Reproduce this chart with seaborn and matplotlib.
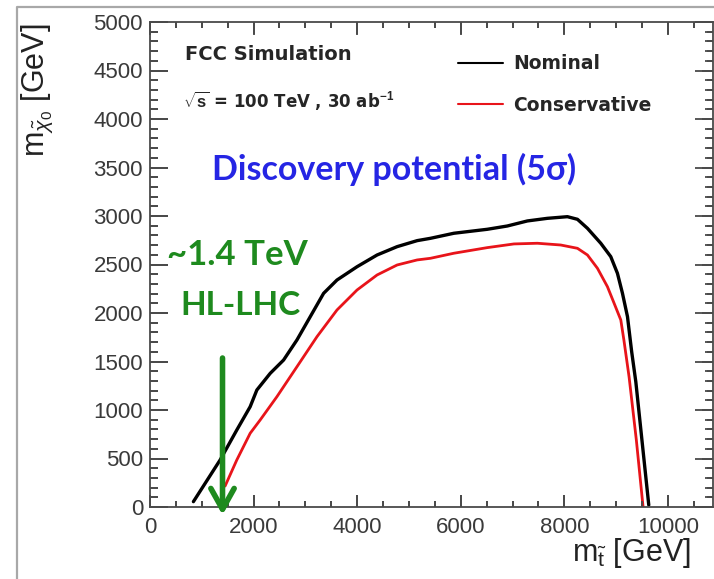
"""FCC discovery reach: stop vs neutralino mass plane."""

import matplotlib.pyplot as plt
import pandas as pd
import seaborn as sns
from matplotlib.lines import Line2D
from matplotlib.ticker import MultipleLocator

# (GeV)
NOMINAL_X = [838, 1354, 1676, 1934, 2063, 2321, 2579, 2837, 3094, 3352, 3610,
             3997, 4384, 4771, 5158, 5415, 5866, 6512, 6899, 7286, 7672, 8059,
             8253, 8446, 8703, 8896, 9025, 9122, 9219, 9300, 9380, 9500, 9630]
NOMINAL_Y = [55, 485, 794, 1034, 1206, 1378, 1515, 1722, 1962, 2203, 2340,
             2477, 2598, 2684, 2746, 2770, 2822, 2863, 2897, 2949, 2976, 2993,
             2966, 2873, 2719, 2581, 2409, 2203, 1962, 1600, 1290, 680, 20]
CONSERVATIVE_X = [1450, 1676, 1934, 2127, 2450, 2837, 3224, 3610, 3997, 4384,
                  4771, 5158, 5415, 5866, 6512, 7027, 7479, 7930, 8253, 8446,
                  8639, 8832, 8961, 9090, 9150, 9250, 9390, 9520]
CONSERVATIVE_Y = [216, 485, 760, 897, 1137, 1446, 1756, 2031, 2237, 2392,
                  2495, 2547, 2564, 2616, 2674, 2712, 2719, 2701, 2667, 2598,
                  2461, 2271, 2100, 1928, 1720, 1340, 690, 0]
HL_LHC_LIMIT = 1400
ARROW_TOP = 1536
ARROW_TIP = -82

GREEN = "#1e8a1e"
BLUE = "#2525e4"
AXIS_GREY = "#4a4a4a"

sns.set_style("ticks")
plt.rcParams["font.family"] = ["Liberation Sans", "DejaVu Sans"]
plt.rcParams["mathtext.fontset"] = "custom"
plt.rcParams["mathtext.rm"] = "Liberation Sans"
plt.rcParams["mathtext.it"] = "Liberation Sans:italic"
plt.rcParams["mathtext.bf"] = "Liberation Sans:bold"

df = pd.concat([
    pd.DataFrame({"mstop": NOMINAL_X, "mlsp": NOMINAL_Y, "scenario": "Nominal"}),
    pd.DataFrame({"mstop": CONSERVATIVE_X, "mlsp": CONSERVATIVE_Y, "scenario": "Conservative"}),
])

fig, ax = plt.subplots(figsize=(7.14, 5.79), dpi=100)
fig.subplots_adjust(left=150 / 714, right=713 / 714, bottom=72 / 579, top=557 / 579)

sns.lineplot(data=df, x="mstop", y="mlsp", hue="scenario", sort=False,
             estimator=None, palette={"Nominal": "black", "Conservative": "#e8141a"},
             ax=ax, legend=True)
for line, lw in zip(ax.lines, [2.4, 2.0]):
    line.set_linewidth(lw)
    line.set_solid_joinstyle("round")

ax.set_xlim(0, 10870)
ax.set_ylim(0, 5000)
ax.xaxis.set_major_locator(MultipleLocator(2000))
ax.xaxis.set_minor_locator(MultipleLocator(500))
ax.yaxis.set_major_locator(MultipleLocator(500))
ax.yaxis.set_minor_locator(MultipleLocator(100))
ax.tick_params(which="both", direction="in", top=True, right=True, labelsize=16)
ax.tick_params(which="both", colors=AXIS_GREY, labelcolor="#3a3a3a", width=1.3)
ax.tick_params(axis="y", which="major", length=13, pad=5)
ax.tick_params(axis="y", which="minor", length=6)
ax.tick_params(axis="x", which="major", length=9, pad=7)
ax.tick_params(axis="x", which="minor", length=4.5)
for spine in ax.spines.values():
    spine.set_color(AXIS_GREY)
    spine.set_linewidth(1.3)
ax.set_xlabel("")
ax.set_ylabel("")

# ROOT-style inward ticks, also drawn as plain segments so they always show
xt = ax.get_xaxis_transform()
yt = ax.get_yaxis_transform()
xmaj, xmin_ = ax.get_xticks(), ax.xaxis.get_minorticklocs()
ymaj, ymin_ = ax.get_yticks(), ax.yaxis.get_minorticklocs()
tick_kw = dict(color=AXIS_GREY, lw=1.3)
ax.vlines(xmaj, 0, 0.025, transform=xt, **tick_kw)
ax.vlines(xmin_, 0, 0.0125, transform=xt, **tick_kw)
ax.vlines(xmaj, 1 - 0.025, 1, transform=xt, **tick_kw)
ax.vlines(xmin_, 1 - 0.0125, 1, transform=xt, **tick_kw)
ax.hlines(ymaj, 0, 0.032, transform=yt, **tick_kw)
ax.hlines(ymin_, 0, 0.0145, transform=yt, **tick_kw)
ax.hlines(ymaj, 1 - 0.02, 1, transform=yt, **tick_kw)
ax.hlines(ymin_, 1 - 0.01, 1, transform=yt, **tick_kw)
ax.set_xlim(0, 10870)
ax.set_ylim(0, 5000)

# HL-LHC reach arrow
ax.annotate("", xy=(HL_LHC_LIMIT, ARROW_TIP), xytext=(HL_LHC_LIMIT, ARROW_TOP),
            arrowprops=dict(arrowstyle="->,head_length=0.75,head_width=0.42",
                            color=GREEN, lw=4, mutation_scale=20,
                            shrinkA=0, shrinkB=0),
            annotation_clip=False)

ax.text(0.155, 0.520, "~1.4 TeV", transform=ax.transAxes, ha="center", va="center",
        color=GREEN, fontsize=25, fontweight="bold", family="Lato")
ax.text(0.160, 0.416, "HL-LHC", transform=ax.transAxes, ha="center", va="center",
        color=GREEN, fontsize=24, fontweight="bold", family="Lato")
ax.text(0.434, 0.695, "Discovery potential (5σ)", transform=ax.transAxes,
        ha="center", va="center", color=BLUE, fontsize=24.5, fontweight="bold", family="Lato")
ax.text(0.062, 0.932, "FCC Simulation", transform=ax.transAxes, ha="left", va="center",
        fontsize=14, fontweight="bold", family="DejaVu Sans")
ax.text(0.059, 0.839, r"$\sqrt{\mathbf{s}}$ = 100 TeV , 30 ab$^{\mathbf{-1}}$",
        transform=ax.transAxes, ha="left", va="center", fontsize=12,
        fontweight="bold", family="DejaVu Sans")

ax.legend(loc="upper left", bbox_to_anchor=(0.547, 0.933), frameon=False,
          handlelength=2.4, handletextpad=0.55, labelspacing=1.2,
          borderpad=0, borderaxespad=0,
          prop={"family": "DejaVu Sans", "weight": "bold", "size": 13.5})

# axis titles in ROOT style
fig.text(37 / 714, 1 - 90 / 579, r"m$_{\tilde{\chi}_0}$ [GeV]", rotation=90,
         ha="center", va="center", fontsize=22, color="#222222")
fig.text(572 / 714, 1 - 561 / 579, r"m$_{\tilde{\mathrm{t}}}$ [GeV]", ha="left",
         va="baseline", fontsize=22, color="#222222")

# slide frame
fig.add_artist(Line2D([17 / 714, 17 / 714, 1.0], [0.0, 1 - 7 / 579, 1 - 7 / 579],
                      transform=fig.transFigure, color="#a8a8a8", lw=1.6))

fig.savefig("out.png", dpi=100)
